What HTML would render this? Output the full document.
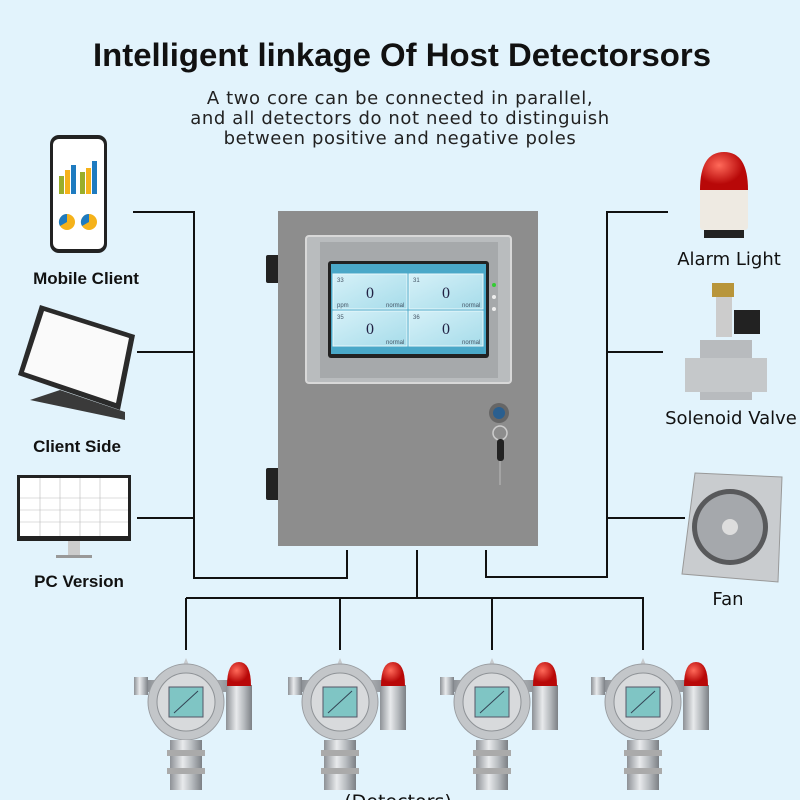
<!DOCTYPE html>
<html><head><meta charset="utf-8"><style>
body{margin:0;width:800px;height:800px;overflow:hidden;background:#e2f3fc;}
svg{display:block}
</style></head><body>
<svg width="800" height="800" viewBox="0 0 800 800" xmlns="http://www.w3.org/2000/svg" font-family="Liberation Sans, sans-serif">
<defs>
<linearGradient id="steel" x1="0" x2="1"><stop offset="0" stop-color="#8d9196"/><stop offset=".4" stop-color="#e8eaec"/><stop offset=".7" stop-color="#b5b9bd"/><stop offset="1" stop-color="#7c8085"/></linearGradient>
<radialGradient id="red" cx=".4" cy=".35"><stop offset="0" stop-color="#ff6a5a"/><stop offset="1" stop-color="#b80808"/></radialGradient>
<linearGradient id="scr" x1="0" y1="0" x2="1" y2="1"><stop offset="0" stop-color="#d6f1f8"/><stop offset="1" stop-color="#a6dcea"/></linearGradient>
<g id="det">
 <rect x="-52" y="27" width="14" height="18" fill="url(#steel)"/>
 <rect x="-38" y="30" width="90" height="12" fill="url(#steel)"/>
 <path d="M-6 22 L0 8 L6 22Z" fill="#c8cbce"/>
 <circle cx="0" cy="52" r="38" fill="#c3c6c9" stroke="#9a9da1"/>
 <circle cx="0" cy="52" r="29" fill="#d8dadc" stroke="#8e9296"/>
 <rect x="-17" y="37" width="34" height="30" fill="#7fc5c4" stroke="#556"/>
 <line x1="-12" y1="63" x2="12" y2="41" stroke="#345"/>
 <rect x="-16" y="90" width="32" height="50" fill="url(#steel)"/>
 <rect x="-19" y="100" width="38" height="6" fill="#aaa"/>
 <rect x="-19" y="118" width="38" height="6" fill="#aaa"/>
 <rect x="40" y="35" width="26" height="45" fill="url(#steel)"/>
 <path d="M41 36 Q41 12 53 12 Q65 12 65 36Z" fill="url(#red)"/>
</g>
</defs>

<text x="402" y="66" text-anchor="middle" font-size="32" font-weight="bold" fill="#111" textLength="618" lengthAdjust="spacingAndGlyphs">Intelligent linkage Of Host Detectorsors</text>
<g font-family="DejaVu Sans, sans-serif" font-size="18" fill="#222" text-anchor="middle" letter-spacing=".6">
<text x="400" y="104">A two core can be connected in parallel,</text>
<text x="400" y="124">and all detectors do not need to distinguish</text>
<text x="400" y="144">between positive and negative poles</text>
</g>

<g stroke="#111" stroke-width="2" fill="none">
<path d="M133 212H194V578H347V550"/>
<path d="M137 352H194M137 518H194"/>
<path d="M668 212H607V577H486V550"/>
<path d="M607 352H663M607 518H685"/>
<path d="M417 550V598M186 598H644M186 598V650M340 598V650M492 598V650M643 598V650"/>
</g>

<rect x="266" y="255" width="14" height="28" fill="#222" rx="2"/>
<rect x="266" y="468" width="14" height="32" fill="#222" rx="2"/>
<rect x="278" y="211" width="260" height="335" fill="#8d8d8d"/>
<rect x="306" y="236" width="205" height="147" fill="#b9bcbe" stroke="#d8d8d8" stroke-width="2" rx="3"/>
<rect x="320" y="242" width="178" height="136" fill="#a6a9ab"/>
<rect x="328" y="261" width="161" height="97" fill="#222" rx="3"/>
<rect x="331" y="264" width="155" height="90" fill="#4aa8c8"/>
<g fill="url(#scr)" stroke="#e8f8fb">
<rect x="333" y="274" width="74" height="35"/><rect x="409" y="274" width="74" height="35"/>
<rect x="333" y="311" width="74" height="35"/><rect x="409" y="311" width="74" height="35"/>
</g>
<g font-family="Liberation Serif, serif" font-size="16" fill="#224" text-anchor="middle">
<text x="370" y="298">0</text><text x="446" y="298">0</text><text x="370" y="334">0</text><text x="446" y="334">0</text>
</g>
<g font-size="6" fill="#456">
<text x="337" y="282">33</text><text x="413" y="282">31</text><text x="337" y="319">35</text><text x="413" y="319">36</text>
<text x="337" y="307">ppm</text><text x="386" y="307">normal</text><text x="462" y="307">normal</text><text x="386" y="344">normal</text><text x="462" y="344">normal</text>
</g>
<circle cx="494" cy="285" r="2" fill="#3c3"/><circle cx="494" cy="297" r="2" fill="#eee"/><circle cx="494" cy="309" r="2" fill="#eee"/>
<circle cx="499" cy="413" r="10" fill="#666"/><circle cx="499" cy="413" r="6" fill="#2a5f8f"/>
<circle cx="500" cy="433" r="7" fill="none" stroke="#ccc" stroke-width="1.5"/>
<rect x="497" y="439" width="7" height="22" rx="3" fill="#222"/><line x1="500" y1="461" x2="500" y2="485" stroke="#bbb"/>

<rect x="50" y="135" width="57" height="118" rx="9" fill="#222"/>
<rect x="53" y="139" width="51" height="110" rx="6" fill="#fff"/>
<g fill="#9aae2a"><rect x="59" y="176" width="5" height="18"/><rect x="80" y="172" width="5" height="22"/></g>
<g fill="#f5b21a"><rect x="65" y="170" width="5" height="24"/><rect x="86" y="168" width="5" height="26"/></g>
<g fill="#1e7bc0"><rect x="71" y="165" width="5" height="29"/><rect x="92" y="161" width="5" height="33"/></g>
<circle cx="67" cy="222" r="8" fill="#f5b21a"/><path d="M67 222V214A8 8 0 0 0 60 226Z" fill="#1e7bc0"/>
<circle cx="89" cy="222" r="8" fill="#f5b21a"/><path d="M89 222V214A8 8 0 0 0 82 226Z" fill="#1e7bc0"/>
<text x="86" y="284" text-anchor="middle" font-size="17" font-weight="bold" fill="#111">Mobile Client</text>

<path d="M40 305 L135 335 L120 410 L18 375Z" fill="#2a2a2a"/>
<path d="M44 311 L129 338 L116 403 L24 372Z" fill="#fafafa"/>
<path d="M30 400 L125 420 L125 412 L60 390Z" fill="#3a3a3a"/>
<text x="77" y="452" text-anchor="middle" font-size="17" font-weight="bold" fill="#111">Client Side</text>

<rect x="17" y="475" width="114" height="66" fill="#222"/>
<rect x="20" y="478" width="108" height="58" fill="#fff"/>
<g stroke="#bbb" stroke-width=".6"><path d="M20 498H128M20 510H128M20 522H128M40 478V536M60 478V536M80 478V536M100 478V536"/></g>
<rect x="68" y="541" width="12" height="14" fill="#ccc"/><rect x="56" y="555" width="36" height="3" fill="#999"/>
<text x="79" y="587" text-anchor="middle" font-size="17" font-weight="bold" fill="#111">PC Version</text>

<rect x="700" y="186" width="48" height="44" rx="3" fill="#eeeae2"/>
<path d="M700 190 Q700 152 724 152 Q748 152 748 190Z" fill="url(#red)"/>
<rect x="704" y="230" width="40" height="8" fill="#222"/>
<text x="729" y="265" text-anchor="middle" font-family="DejaVu Sans, sans-serif" font-size="18" fill="#111">Alarm Light</text>

<rect x="712" y="283" width="22" height="14" fill="#b8953a"/>
<rect x="716" y="297" width="16" height="40" fill="#ccc"/>
<rect x="734" y="310" width="26" height="24" fill="#222"/>
<path d="M700 340 H752 V400 H700Z" fill="#b8bbbe"/>
<rect x="685" y="358" width="82" height="34" fill="#c5c8ca"/>
<text x="731" y="424" text-anchor="middle" font-family="DejaVu Sans, sans-serif" font-size="18" fill="#111">Solenoid Valve</text>

<path d="M695 473 L782 477 L778 582 L682 574Z" fill="#c9cccf" stroke="#999"/>
<circle cx="730" cy="527" r="38" fill="#58595b"/>
<circle cx="730" cy="527" r="33" fill="#a5a8ac"/>
<circle cx="730" cy="527" r="8" fill="#ddd"/>
<text x="728" y="605" text-anchor="middle" font-family="DejaVu Sans, sans-serif" font-size="18" fill="#111">Fan</text>

<use href="#det" x="186" y="650"/>
<use href="#det" x="340" y="650"/>
<use href="#det" x="492" y="650"/>
<use href="#det" x="643" y="650"/>
<text x="398" y="808" text-anchor="middle" font-family="DejaVu Sans, sans-serif" font-size="19" fill="#111">(Detectors)</text>
</svg>
</body></html>
